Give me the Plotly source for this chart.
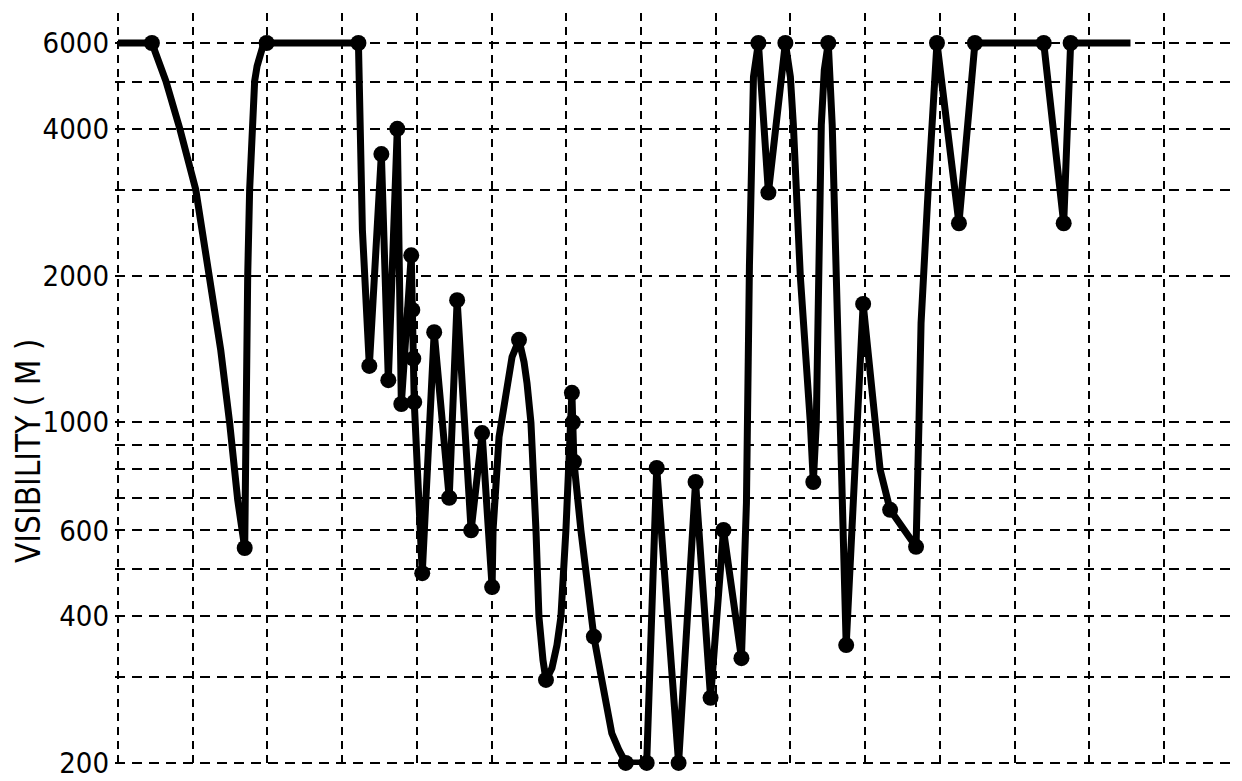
import plotly.graph_objects as go

# time axis (one grid division per unit) and visibility values (m)
hours = [0.000, 0.454, 0.641, 0.828, 1.041, 1.228, 1.375, 1.495, 1.602, 1.696,
         1.709, 1.736, 1.762, 1.789, 1.829, 1.862, 1.896, 1.936, 1.989, 3.218,
         3.271, 3.364, 3.525, 3.618, 3.738, 3.792, 3.925, 3.939, 3.952, 3.965,
         4.072, 4.232, 4.433, 4.539, 4.726, 4.873, 5.007, 5.020, 5.100, 5.194,
         5.274, 5.367, 5.434, 5.474, 5.527, 5.594, 5.634, 5.688, 5.728, 5.808,
         5.875, 5.928, 5.995, 6.075, 6.088, 6.102, 6.195, 6.328, 6.369, 6.475,
         6.609, 6.702, 6.796, 7.076, 7.210, 7.503, 7.730, 7.931, 8.104, 8.344,
         8.411, 8.451, 8.505, 8.571, 8.705, 8.932, 8.999, 9.039, 9.132, 9.266,
         9.306, 9.346, 9.372, 9.413, 9.453, 9.506, 9.559, 9.613, 9.706, 9.746,
         9.973, 10.134, 10.200, 10.334, 10.681, 10.721, 10.748, 10.841, 10.908, 10.961,
         11.255, 11.469, 12.390, 12.657, 12.750, 13.551]
visibility = [6000, 6000, 5014, 4000, 3000, 2000, 1407, 995, 693, 552,
              995, 2000, 3000, 4000, 5014, 5383, 5672, 5888, 6000, 6000,
              2482, 1305, 3550, 1220, 4000, 1090, 2200, 1700, 1350, 1100,
              490, 1530, 700, 1780, 600, 950, 459, 601, 933, 1165,
              1362, 1476, 1330, 1204, 997, 601, 399, 325, 296, 313,
              349, 399, 601, 1149, 1000, 830, 601, 399, 363, 296,
              230, 213, 200, 200, 806, 200, 754, 272, 601, 328,
              683, 2092, 5112, 6000, 2960, 6000, 5112, 4074, 1996, 997,
              754, 997, 1996, 4074, 5283, 6000, 4074, 1996, 547, 349,
              1749, 997, 799, 661, 555, 1011, 1598, 2956, 4585, 6000,
              2560, 6000, 6000, 2560, 6000, 6000]
# 1 = plotted observation dot, 0 = curve only
observed = [0, 1, 0, 0, 0, 0, 0, 0, 0, 1,
            0, 0, 0, 0, 0, 0, 0, 0, 1, 1,
            0, 1, 1, 1, 1, 1, 1, 1, 1, 1,
            1, 1, 1, 1, 1, 1, 1, 0, 0, 0,
            0, 1, 0, 0, 0, 0, 0, 0, 1, 0,
            0, 0, 0, 1, 1, 1, 0, 0, 1, 0,
            0, 0, 1, 1, 1, 1, 1, 1, 1, 1,
            0, 0, 0, 1, 1, 1, 0, 0, 0, 0,
            1, 0, 0, 0, 0, 1, 0, 0, 0, 1,
            1, 0, 0, 1, 1, 0, 0, 0, 0, 1,
            1, 1, 1, 1, 1, 0]

grid_vals = [200, 300, 400, 500, 600, 700, 800, 900, 1000,
             2000, 3000, 4000, 5000, 6000]
grid_text = ["200", "", "400", "", "600", "", "", "", "1000",
             "2000", "", "4000", "", "6000"]
x_grid = list(range(0, 16))

FONT = "DejaVu Sans Condensed, Liberation Sans Narrow, DejaVu Sans, sans-serif"

fig = go.Figure()
fig.add_trace(go.Scatter(
    x=hours, y=visibility, mode="lines+markers",
    line=dict(color="black", width=7, shape="linear"),
    marker=dict(color="black", opacity=1,
                size=[16 if o else 0 for o in observed],
                line=dict(width=0)),
    cliponaxis=False, showlegend=False, hoverinfo="x+y",
))

# the page body has an 8px default margin, so the figure is sized to fit inside it
fig.update_layout(
    width=1234, height=773, autosize=False,
    margin=dict(l=107, r=1, t=5, b=16, autoexpand=False),
    paper_bgcolor="white", plot_bgcolor="white",
    font=dict(family=FONT, color="black"),
    xaxis=dict(range=[-0.04, 15.03], tickvals=x_grid, showticklabels=False,
               showgrid=True, gridcolor="black", gridwidth=2,
               griddash="8px,6px", zeroline=False, showline=False, ticks="",
               automargin=False),
    yaxis=dict(type="log", range=[2.29667, 3.8397],
               tickvals=grid_vals, ticktext=grid_text,
               tickfont=dict(size=29, family=FONT, color="black"),
               showgrid=True, gridcolor="black", gridwidth=2,
               griddash="10px,7px", zeroline=False, showline=False,
               ticks="", ticklabelstandoff=5, automargin=False),
    annotations=[dict(
        text="VISIBILITY ( M )", xref="paper", yref="paper",
        x=0, y=0.4176, xshift=-86, xanchor="center", yanchor="middle",
        textangle=-90, showarrow=False,
        font=dict(size=33, family=FONT, color="black"),
    )],
)

fig.write_html("out.html")
